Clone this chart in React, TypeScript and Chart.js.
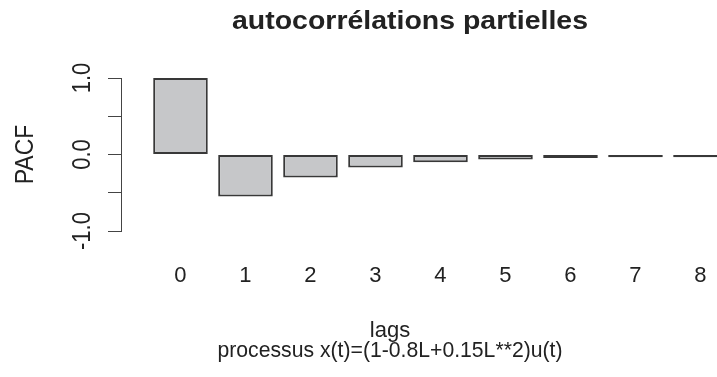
import React, { useEffect, useRef } from "react";
import { Chart, registerables } from "chart.js";

Chart.register(...registerables);

const lags = [0, 1, 2, 3, 4, 5, 6, 7, 8];
const pacf = [1.0, -0.55, -0.3, -0.17, -0.1, -0.065, -0.045, -0.035, -0.035];
const yTickValues = [-1, 0, 1];
const yTickLabels = ["-1.0", "0.0", "1.0"];
const xTickLabels = ["0", "1", "2", "3", "4", "5", "6", "7", "8"];
const titleText = "autocorrélations partielles";
const yTitle = "PACF";
const xTitle = "lags";
const subTitle = "processus x(t)=(1-0.8L+0.15L**2)u(t)";

const FONT = '"Liberation Sans", Arial, sans-serif';
const TEXT = "#222222";

const textPlugin = {
  id: "rtext",
  afterDraw(chart: any) {
    const ctx = chart.ctx as CanvasRenderingContext2D;
    const xs = chart.scales.x;
    const ys = chart.scales.y;
    ctx.save();
    ctx.fillStyle = TEXT;
    ctx.textBaseline = "alphabetic";

    // title
    ctx.font = `bold 26px ${FONT}`;
    ctx.textAlign = "center";
    {
      const w = ctx.measureText(titleText).width;
      const sx = 356 / w;
      ctx.save();
      ctx.translate(410, 29);
      ctx.scale(sx, 1);
      ctx.fillText(titleText, 0, 0);
      ctx.restore();
    }

    // x tick labels
    ctx.font = `22px ${FONT}`;
    lags.forEach((lag, i) => {
      const px = xs.getPixelForValue(lag);
      ctx.fillText(xTickLabels[i], px, 282);
    });

    // y tick labels (rotated)
    yTickValues.forEach((v, i) => {
      const py = ys.getPixelForValue(v);
      ctx.save();
      ctx.translate(90, py);
      ctx.scale(1.15, 1);
      ctx.rotate(-Math.PI / 2);
      ctx.fillText(yTickLabels[i], 0, 0);
      ctx.restore();
    });

    // y title
    ctx.save();
    ctx.font = `23px ${FONT}`;
    ctx.translate(33, (ys.top + ys.bottom) / 2);
    ctx.scale(1.15, 1);
    ctx.rotate(-Math.PI / 2);
    ctx.fillText(yTitle, 0, 0);
    ctx.restore();

    // x title
    ctx.font = `22px ${FONT}`;
    ctx.fillText(xTitle, 390, 337);

    // subtitle
    {
      const w = ctx.measureText(subTitle).width;
      const sx = 345 / w;
      ctx.save();
      ctx.translate(390, 357);
      ctx.scale(sx, 1);
      ctx.fillText(subTitle, 0, 0);
      ctx.restore();
    }
    ctx.restore();
  },
};

export default function App() {
  const ref = useRef<HTMLCanvasElement | null>(null);
  useEffect(() => {
    if (!ref.current) return;
    const chart = new Chart(ref.current, {
      type: "bar",
      data: {
        datasets: [
          {
            data: lags.map((l, i) => ({ x: l, y: pacf[i] })),
            backgroundColor: "#c6c7c9",
            borderColor: "#383838",
            borderWidth: 2,
            borderSkipped: false,
            barPercentage: 0.84,
            categoryPercentage: 1,
          },
        ],
      },
      options: {
        responsive: false,
        animation: false,
        devicePixelRatio: 1,
        layout: { padding: { top: 78, bottom: 146, left: 108, right: 0 } },
        plugins: {
          legend: { display: false },
          title: { display: false },
          tooltip: { enabled: false },
        },
        scales: {
          x: {
            type: "linear",
            display: false,
            offset: false,
            min: -0.915,
            max: 8.254,
            grid: { offset: false },
          },
          y: {
            type: "linear",
            min: -1,
            max: 1,
            ticks: { display: false, stepSize: 0.5 },
            grid: {
              drawOnChartArea: false,
              drawTicks: true,
              tickLength: 13,
              color: "#444444",
              lineWidth: 1,
            },
            border: { display: true, color: "#444444", width: 1 },
          },
        },
      },
      plugins: [textPlugin],
    });
    return () => chart.destroy();
  }, []);
  return (
    <div style={{ position: "fixed", left: 0, top: 0, width: 717, height: 377, background: "#fff" }}>
      <canvas ref={ref} width={717} height={377} style={{ width: 717, height: 377 }} />
    </div>
  );
}
